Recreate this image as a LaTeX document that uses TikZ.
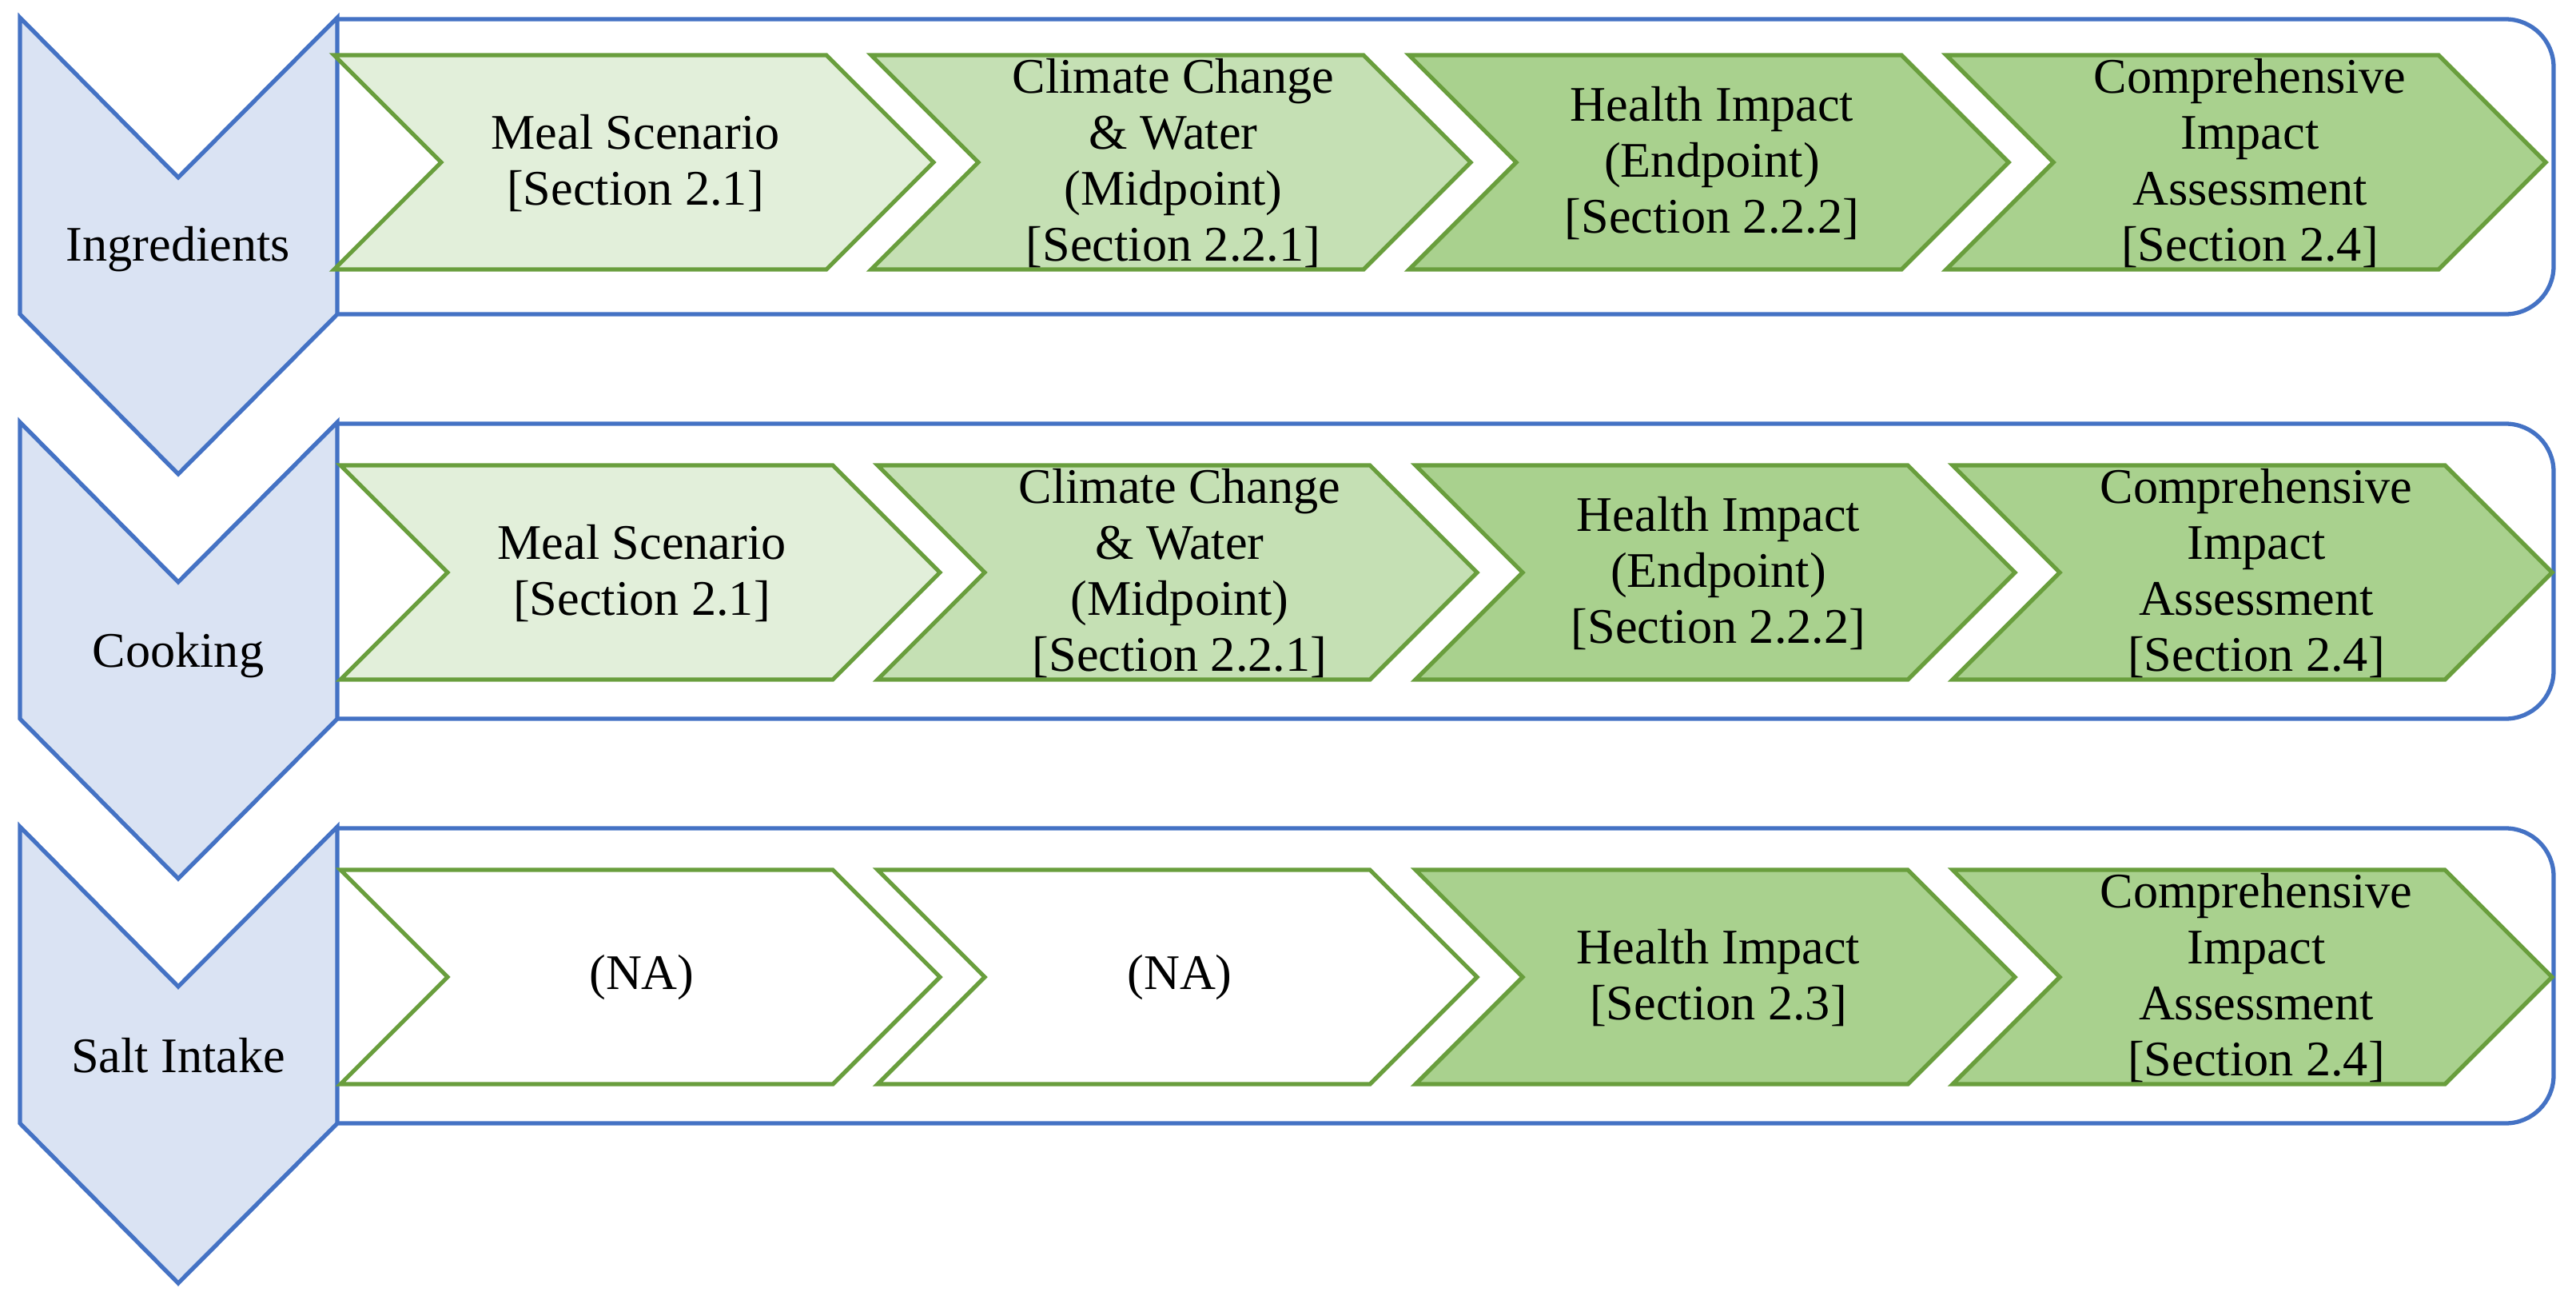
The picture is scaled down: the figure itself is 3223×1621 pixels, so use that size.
\documentclass[tikz,border=0pt]{standalone}
\usepackage{fontspec}
\setmainfont{Liberation Serif}

\definecolor{stageline}{HTML}{4472C4}
\definecolor{stagefill}{HTML}{DAE3F3}
\definecolor{stepline}{HTML}{699E3D}
\definecolor{greenA}{HTML}{E2EFDA}
\definecolor{greenB}{HTML}{C5E0B4}
\definecolor{greenC}{HTML}{A9D18E}

\tikzset{
  stage/.style={draw=stageline, fill=stagefill, line width=1.5pt},
  band/.style={draw=stageline, line width=1.5pt, rounded corners=0.6cm},
  stepbox/.style={draw=stepline, line width=1.5pt},
  steptext/.style={align=center, inner sep=0pt, font=\fontsize{17.7}{19.9}\selectfont}
}

\begin{document}
\begin{tikzpicture}[x=0.01cm, y=-0.01cm]
\useasboundingbox (0,0) rectangle (3223,1621);

	% bands and stages
	\draw[band] (422,24) -- (3195,24) -- (3195,393) -- (422,393);
	\draw[band] (422,530) -- (3195,530) -- (3195,899) -- (422,899);
	\draw[band] (422,1036) -- (3195,1036) -- (3195,1405) -- (422,1405);

	\draw[stage] (25,22) -- (223,222) -- (422,22) -- (422,393) -- (223,593) -- (25,393) -- cycle;
	\draw[stage] (25,528) -- (223,728) -- (422,528) -- (422,899) -- (223,1099) -- (25,899) -- cycle;
	\draw[stage] (25,1034) -- (223,1234) -- (422,1034) -- (422,1405) -- (223,1605) -- (25,1405) -- cycle;

	\node[steptext] (ingr) at (223,312) {Ingredients};
	\node[steptext] (cook) at (223,820) {Cooking};
	\node[steptext] (salt) at (223,1320) {Salt Intake};

	% row 1
	\draw[stepbox, fill=greenA] (418,69) -- ++(616,0) -- ++(134,134) -- ++(-134,134) -- ++(-616,0) -- ++(134,-134) -- cycle;
	\draw[stepbox, fill=greenB] (1090,69) -- ++(616,0) -- ++(134,134) -- ++(-134,134) -- ++(-616,0) -- ++(134,-134) -- cycle;
	\draw[stepbox, fill=greenC] (1763,69) -- ++(616,0) -- ++(134,134) -- ++(-134,134) -- ++(-616,0) -- ++(134,-134) -- cycle;
	\draw[stepbox, fill=greenC] (2435,69) -- ++(616,0) -- ++(134,134) -- ++(-134,134) -- ++(-616,0) -- ++(134,-134) -- cycle;

	\node[steptext] (meal1) at (795,204) {Meal Scenario\\{}[Section 2.1]};
	\node[steptext] (clim1) at (1468,204) {Climate Change\\\& Water\\(Midpoint)\\{}[Section 2.2.1]};
	\node[steptext] (heal1) at (2142,204) {Health Impact\\(Endpoint)\\{}[Section 2.2.2]};
	\node[steptext] (comp1) at (2815,204) {Comprehensive\\Impact\\Assessment\\{}[Section 2.4]};

	% row 2
	\begin{scope}[shift={(8,513)}]
	\draw[stepbox, fill=greenA] (418,69) -- ++(616,0) -- ++(134,134) -- ++(-134,134) -- ++(-616,0) -- ++(134,-134) -- cycle;
	\draw[stepbox, fill=greenB] (1090,69) -- ++(616,0) -- ++(134,134) -- ++(-134,134) -- ++(-616,0) -- ++(134,-134) -- cycle;
	\draw[stepbox, fill=greenC] (1763,69) -- ++(616,0) -- ++(134,134) -- ++(-134,134) -- ++(-616,0) -- ++(134,-134) -- cycle;
	\draw[stepbox, fill=greenC] (2435,69) -- ++(616,0) -- ++(134,134) -- ++(-134,134) -- ++(-616,0) -- ++(134,-134) -- cycle;

	\node[steptext] (meal2) at (795,204) {Meal Scenario\\{}[Section 2.1]};
	\node[steptext] (clim2) at (1468,204) {Climate Change\\\& Water\\(Midpoint)\\{}[Section 2.2.1]};
	\node[steptext] (heal2) at (2142,204) {Health Impact\\(Endpoint)\\{}[Section 2.2.2]};
	\node[steptext] (comp2) at (2815,204) {Comprehensive\\Impact\\Assessment\\{}[Section 2.4]};
	\end{scope}

	% row 3
	\begin{scope}[shift={(8,1019)}]
	\draw[stepbox, fill=white] (418,69) -- ++(616,0) -- ++(134,134) -- ++(-134,134) -- ++(-616,0) -- ++(134,-134) -- cycle;
	\draw[stepbox, fill=white] (1090,69) -- ++(616,0) -- ++(134,134) -- ++(-134,134) -- ++(-616,0) -- ++(134,-134) -- cycle;
	\draw[stepbox, fill=greenC] (1763,69) -- ++(616,0) -- ++(134,134) -- ++(-134,134) -- ++(-616,0) -- ++(134,-134) -- cycle;
	\draw[stepbox, fill=greenC] (2435,69) -- ++(616,0) -- ++(134,134) -- ++(-134,134) -- ++(-616,0) -- ++(134,-134) -- cycle;

	\node[steptext] (meal3) at (795,204) {(NA)};
	\node[steptext] (clim3) at (1468,204) {(NA)};
	\node[steptext] (heal3) at (2142,204) {Health Impact\\{}[Section 2.3]};
	\node[steptext] (comp3) at (2815,204) {Comprehensive\\Impact\\Assessment\\{}[Section 2.4]};
	\end{scope}

\end{tikzpicture}
\end{document}
